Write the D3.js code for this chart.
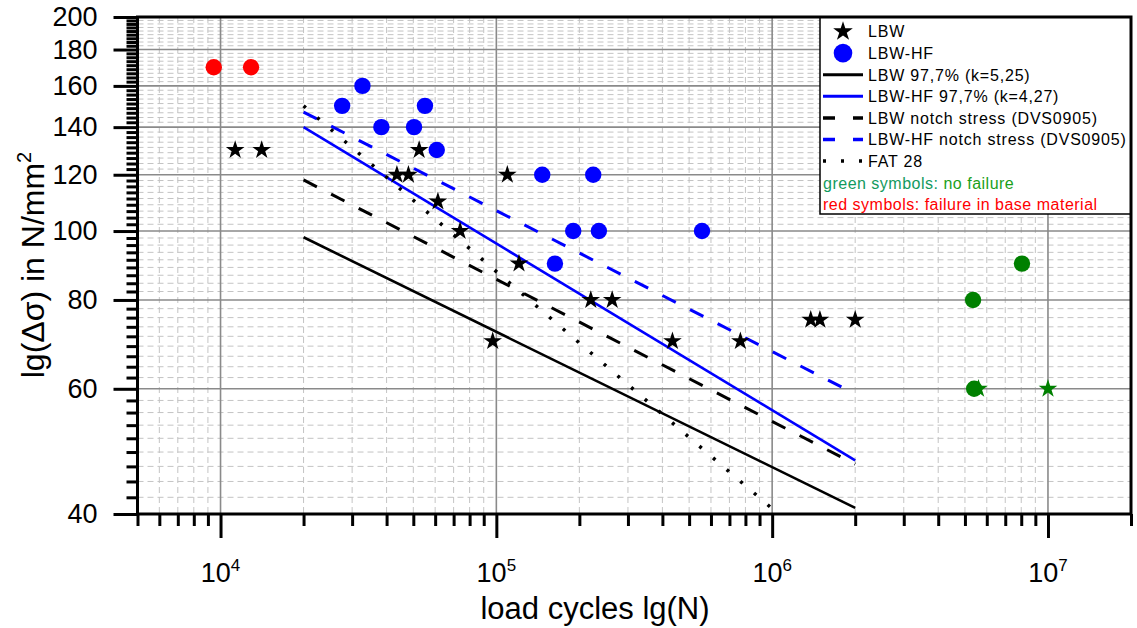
<!DOCTYPE html>
<html>
<head>
<meta charset="utf-8">
<script src="https://cdn.jsdelivr.net/npm/d3@7"></script>
<style>
body { margin: 0; background: #fff; }
text { font-family: "Liberation Sans", Arial, sans-serif; }
</style>
</head>
<body>
<script>
let w = 1137;
let h = 628;
let padL = 137.5, padR = 1131, padT = 17, padB = 514;

// test points [load cycles N, stress range in N/mm²]
let lbw = [[11300,130],[14100,130],[52500,130],[43600,120],[48000,120],[109600,120],
  [61400,110],[73900,100],[120800,90],[97000,70],[220000,80],[263000,80],
  [435000,70],[767000,70],[1380000,75],[1490000,75],[2000000,75]];
let lbwHF = [[27600,150],[32700,160],[38300,140],[50300,140],[55100,150],[60800,130],
  [146700,120],[224500,120],[190000,100],[235400,100],[556800,100],[163100,90]];
let noFailStars = [[5600000,60],[10000000,60]];
let noFailCircles = [[5350000,80],[8050000,90],[5400000,60]];
let baseFail = [[9450,170],[12900,170]];

// S-N lines
let lbwCurve = [[2e4,98],[2e6,40.8]];
let lbwHFCurve = [[2e4,140],[2e6,47.6]];
let lbwNotch = [[2e4,118],[2e6,47]];
let lbwHFNotch = [[2e4,147],[2e6,59]];
let fat28 = [[2e4,150],[1e6,40.7]];

let xTicks = [1e4,1e5,1e6,1e7];
let yTicks = [40,60,80,100,120,140,160,180,200];

let xScale = d3.scaleLog().domain([5000, 2e7]).range([padL, padR]);
let yScale = d3.scaleLog().domain([40, 200]).range([padB, padT]);

let xMinor = [];
[1e3,1e4,1e5,1e6,1e7].forEach((d) => {
  for (let m = 2; m <= 9; m++) {
    let v = m * d;
    if (v >= 5000 && v <= 2e7) xMinor.push(v);
  }
});
let yMinor = [];
for (let i = 0; i < yTicks.length - 1; i++) {
  let step = (yTicks[i+1] - yTicks[i]) / 9;
  for (let j = 1; j <= 8; j++) yMinor.push(yTicks[i] + j * step);
}

let svg = d3.select("body")
  .append("svg")
  .attr("width", w)
  .attr("height", h);

// minor grid
let grid = svg.append("g");
grid.selectAll(".vmin").data(xMinor).enter().append("line")
  .attr("x1", (d) => xScale(d)).attr("x2", (d) => xScale(d))
  .attr("y1", padT).attr("y2", padB)
  .attr("stroke", "#c4c4c4").attr("stroke-width", 1).attr("stroke-dasharray", "6,4");
grid.selectAll(".hmin").data(yMinor).enter().append("line")
  .attr("x1", padL).attr("x2", padR)
  .attr("y1", (d) => yScale(d)).attr("y2", (d) => yScale(d))
  .attr("stroke", "#c4c4c4").attr("stroke-width", 1).attr("stroke-dasharray", "6,4");
// major grid
grid.selectAll(".vmaj").data(xTicks).enter().append("line")
  .attr("x1", (d) => xScale(d)).attr("x2", (d) => xScale(d))
  .attr("y1", padT).attr("y2", padB)
  .attr("stroke", "#8a8a8a").attr("stroke-width", 1.6);
grid.selectAll(".hmaj").data(yTicks).enter().append("line")
  .attr("x1", padL).attr("x2", padR)
  .attr("y1", (d) => yScale(d)).attr("y2", (d) => yScale(d))
  .attr("stroke", "#8a8a8a").attr("stroke-width", 1.6);

let line = d3.line().x((d) => xScale(d[0])).y((d) => yScale(d[1]));

let curves = [
  {data: lbwCurve, color: "black", dash: null, width: 2.6},
  {data: lbwHFCurve, color: "#0000ff", dash: null, width: 2.6},
  {data: lbwNotch, color: "black", dash: "15,16", width: 3},
  {data: lbwHFNotch, color: "#0000ff", dash: "15,16", width: 3},
  {data: fat28, color: "black", dash: "3,15", width: 3.5}
];
svg.append("g").selectAll("path").data(curves).enter().append("path")
  .attr("d", (d) => line(d.data))
  .attr("fill", "none")
  .attr("stroke", (d) => d.color)
  .attr("stroke-width", (d) => d.width)
  .attr("stroke-dasharray", (d) => d.dash);

let star = d3.symbol(d3.symbolStar, 108);

function stars(data, color) {
  svg.append("g").selectAll("path").data(data).enter().append("path")
    .attr("d", star)
    .attr("transform", (d) => "translate(" + xScale(d[0]) + "," + yScale(d[1]) + ")")
    .attr("fill", color);
}
function dots(data, color) {
  svg.append("g").selectAll("circle").data(data).enter().append("circle")
    .attr("cx", (d) => xScale(d[0]))
    .attr("cy", (d) => yScale(d[1]))
    .attr("r", 8.2)
    .attr("fill", color);
}
stars(lbw, "black");
stars(noFailStars, "#008000");
dots(lbwHF, "#0000ff");
dots(noFailCircles, "#008000");
dots(baseFail, "#ff0000");

// legend
let lg = svg.append("g");
lg.append("rect")
  .attr("x", 820).attr("y", padT).attr("width", padR - 820).attr("height", 197)
  .attr("fill", "white").attr("stroke", "black").attr("stroke-width", 1.5);
let legendItems = [
  {label: "LBW", type: "star"},
  {label: "LBW-HF", type: "circle"},
  {label: "LBW 97,7% (k=5,25)", type: "line", color: "black", dash: null, width: 3},
  {label: "LBW-HF 97,7% (k=4,27)", type: "line", color: "#0000ff", dash: null, width: 3},
  {label: "LBW notch stress (DVS0905)", type: "line", color: "black", dash: "12,18", width: 3.5},
  {label: "LBW-HF notch stress (DVS0905)", type: "line", color: "#0000ff", dash: "12,18", width: 3.5},
  {label: "FAT 28", type: "line", color: "black", dash: "3,15", width: 3.5}
];
let rowY = (i) => 31.5 + i * 21.6;
legendItems.forEach((it, i) => {
  let cy = rowY(i);
  if (it.type === "star") {
    lg.append("path").attr("d", d3.symbol(d3.symbolStar, 120)())
      .attr("transform", "translate(843," + cy + ")").attr("fill", "black");
  } else if (it.type === "circle") {
    lg.append("circle").attr("cx", 843).attr("cy", cy).attr("r", 9.3).attr("fill", "#0000ff");
  } else {
    lg.append("line").attr("x1", 823).attr("x2", 863).attr("y1", cy).attr("y2", cy)
      .attr("stroke", it.color).attr("stroke-width", it.width)
      .attr("stroke-dasharray", it.dash);
  }
  lg.append("text").attr("x", 868).attr("y", cy + 5.8)
    .attr("font-size", 16).attr("letter-spacing", 0.8).text(it.label);
});
let g1 = lg.append("text").attr("x", 823).attr("y", rowY(7) + 5.8)
  .attr("font-size", 16).attr("letter-spacing", 0.5);
g1.append("tspan").attr("fill", "#129a5e").text("green symbols: ");
g1.append("tspan").attr("fill", "#1a9f1a").text("no failure");
lg.append("text").attr("x", 823).attr("y", rowY(8) + 5.8)
  .attr("font-size", 16).attr("letter-spacing", 0.5).attr("fill", "#ff0000")
  .text("red symbols: failure in base material");

// axes
let yAxis = d3.axisLeft(yScale).tickValues(yTicks).tickSize(24).tickPadding(16)
  .tickFormat(d3.format("d"));
let yAxisMinor = d3.axisLeft(yScale).tickValues(yMinor).tickSize(11).tickFormat("");
let xAxis = d3.axisBottom(xScale).tickValues(xTicks).tickSize(24).tickFormat("");
let xAxisMinor = d3.axisBottom(xScale).tickValues(xMinor).tickSize(12).tickFormat("");

let ya = svg.append("g").attr("transform", "translate(" + padL + ",0)").call(yAxis);
svg.append("g").attr("transform", "translate(" + padL + ",0)").call(yAxisMinor);
let xa = svg.append("g").attr("transform", "translate(0," + padB + ")").call(xAxis);
svg.append("g").attr("transform", "translate(0," + padB + ")").call(xAxisMinor);
svg.selectAll(".domain").remove();
svg.selectAll(".tick line").attr("stroke-width", 3);
ya.selectAll("text").attr("font-size", 27).attr("font-family", "Liberation Sans, Arial, sans-serif");

// x tick labels as powers of ten
xTicks.forEach((d) => {
  let t = svg.append("text").attr("x", xScale(d)).attr("y", 582)
    .attr("text-anchor", "middle").attr("font-size", 27);
  t.append("tspan").text("10");
  t.append("tspan").attr("font-size", 17).attr("dy", -11).text(Math.round(Math.log10(d)));
});

// frame
svg.append("rect")
  .attr("x", padL).attr("y", padT).attr("width", padR - padL).attr("height", padB - padT)
  .attr("fill", "none").attr("stroke", "black").attr("stroke-width", 3);

// axis titles
svg.append("text").attr("x", 595).attr("y", 619).attr("text-anchor", "middle")
  .attr("font-size", 31).text("load cycles lg(N)");
let yt = svg.append("text").attr("transform", "translate(44,265) rotate(-90)")
  .attr("text-anchor", "middle").attr("font-size", 32);
yt.append("tspan").text("lg(Δσ) in N/mm");
yt.append("tspan").attr("font-size", 20).attr("dy", -13).text("2");
</script>
</body>
</html>
